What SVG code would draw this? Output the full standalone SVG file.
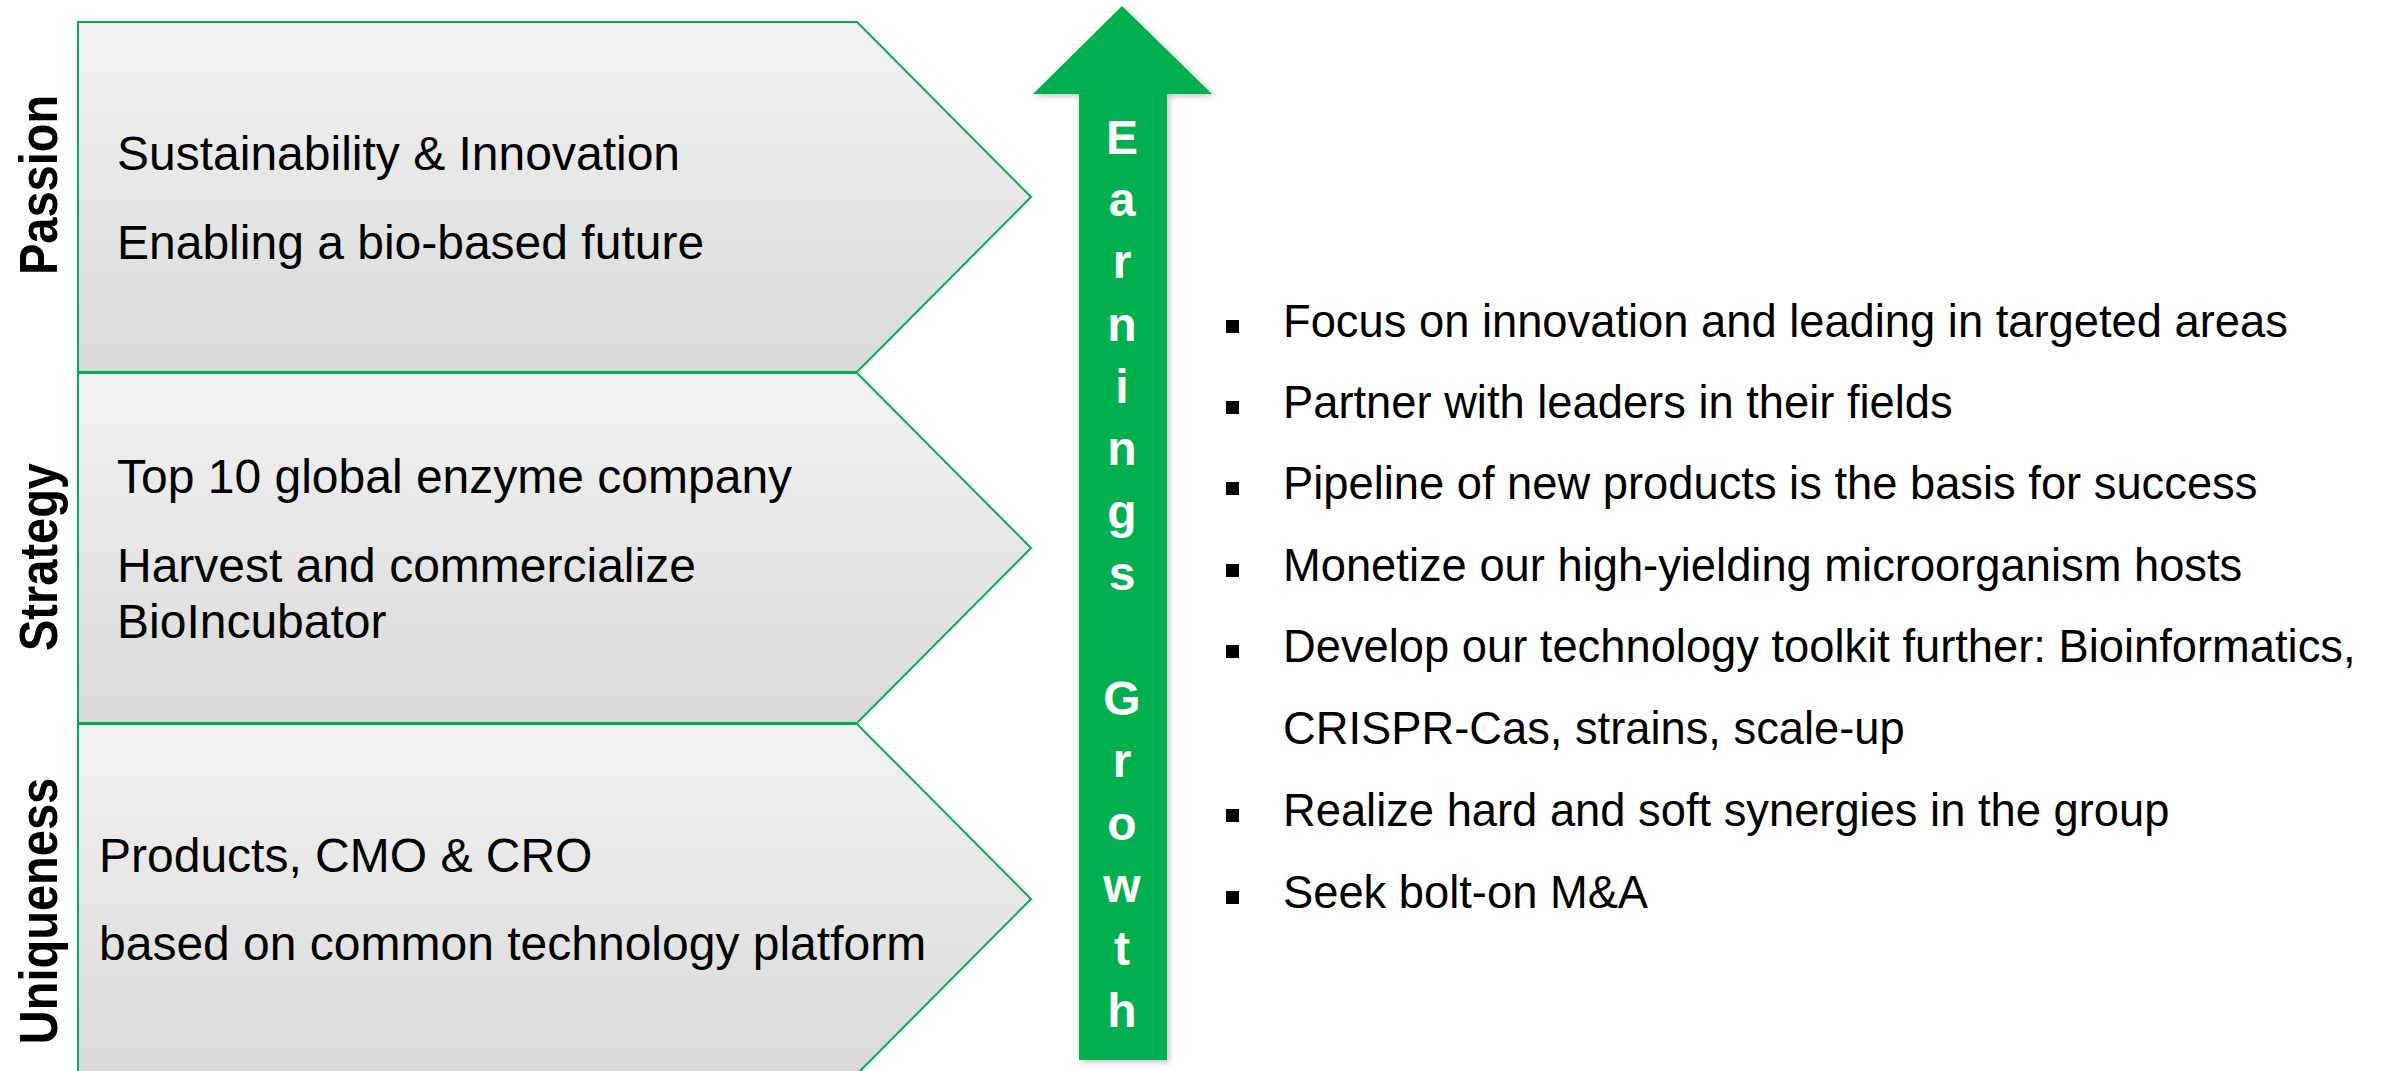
<svg xmlns="http://www.w3.org/2000/svg" width="2387" height="1071" viewBox="0 0 2387 1071">
<style>
.chev{stroke:#00B050;stroke-width:2;fill:url(#g)}
.t{font-family:"Liberation Sans",Arial,sans-serif;font-size:48px;fill:#000}
.lab{font-family:"Liberation Sans",Arial,sans-serif;font-size:47px;font-weight:bold;fill:#000}
.arr{font-family:"Liberation Sans",Arial,sans-serif;font-size:48px;font-weight:bold;fill:#fff;text-anchor:middle}
.b{font-family:"Liberation Sans",Arial,sans-serif;font-size:45.3px;fill:#000}
.sq{fill:#000}
</style>
<defs>
<linearGradient id="g" x1="0" y1="0" x2="0" y2="1">
<stop offset="0" stop-color="#F3F3F3"/>
<stop offset="1" stop-color="#D9D9D9"/>
</linearGradient>
<filter id="sh" x="-20%" y="-5%" width="140%" height="110%">
<feDropShadow dx="2" dy="2" stdDeviation="3" flood-color="#000" flood-opacity="0.25"/>
</filter>
</defs>
<rect width="2387" height="1071" fill="#fff"/>
<g id="passion">
<path class="chev" d="M78,22 H857 L1031,197 L857,372 H78 Z"/>
<text class="lab" transform="translate(57,185) rotate(-90) scale(1,1.15)" text-anchor="middle">Passion</text>
<text class="t" x="117" y="170">Sustainability &amp; Innovation</text>
<text class="t" x="117" y="259">Enabling a bio-based future</text>
</g>
<g id="strategy">
<path class="chev" d="M78,373 H857 L1031,548 L857,723 H78 Z"/>
<text class="lab" transform="translate(57,557) rotate(-90) scale(1,1.15)" text-anchor="middle">Strategy</text>
<text class="t" x="117" y="493">Top 10 global enzyme company</text>
<text class="t" x="117" y="582">Harvest and commercialize</text>
<text class="t" x="117" y="638">BioIncubator</text>
</g>
<g id="uniqueness">
<path class="chev" d="M78,724 H857 L1031,899 L857,1074 H78 Z"/>
<text class="lab" transform="translate(57,911) rotate(-90) scale(1,1.15)" text-anchor="middle">Uniqueness</text>
<text class="t" x="99" y="872">Products, CMO &amp; CRO</text>
<text class="t" x="99" y="960">based on common technology platform</text>
</g>
<g id="growth-arrow">
<path d="M1122,6 L1212,94 H1167 V1060 H1079 V94 H1033 Z" fill="#00B050" filter="url(#sh)"/>
<text class="arr" x="1122" y="153.5">E</text>
<text class="arr" x="1122" y="216">a</text>
<text class="arr" x="1122" y="278">r</text>
<text class="arr" x="1122" y="341">n</text>
<text class="arr" x="1122" y="403">i</text>
<text class="arr" x="1122" y="465">n</text>
<text class="arr" x="1122" y="528">g</text>
<text class="arr" x="1122" y="590">s</text>
<text class="arr" x="1122" y="715">G</text>
<text class="arr" x="1122" y="777">r</text>
<text class="arr" x="1122" y="840">o</text>
<text class="arr" x="1122" y="902">w</text>
<text class="arr" x="1122" y="965">t</text>
<text class="arr" x="1122" y="1027">h</text>
</g>
<g id="bullets">
<rect class="sq" x="1226" y="320" width="13" height="13"/>
<text class="b" x="1283" y="337">Focus on innovation and leading in targeted areas</text>
<rect class="sq" x="1226" y="401" width="13" height="13"/>
<text class="b" x="1283" y="418">Partner with leaders in their fields</text>
<rect class="sq" x="1226" y="482" width="13" height="13"/>
<text class="b" x="1283" y="499">Pipeline of new products is the basis for success</text>
<rect class="sq" x="1226" y="564" width="13" height="13"/>
<text class="b" x="1283" y="581">Monetize our high-yielding microorganism hosts</text>
<rect class="sq" x="1226" y="645" width="13" height="13"/>
<text class="b" x="1283" y="662">Develop our technology toolkit further: Bioinformatics,</text>
<text class="b" x="1283" y="744">CRISPR-Cas, strains, scale-up</text>
<rect class="sq" x="1226" y="809" width="13" height="13"/>
<text class="b" x="1283" y="826">Realize hard and soft synergies in the group</text>
<rect class="sq" x="1226" y="891" width="13" height="13"/>
<text class="b" x="1283" y="908">Seek bolt-on M&amp;A</text>
</g>
</svg>
